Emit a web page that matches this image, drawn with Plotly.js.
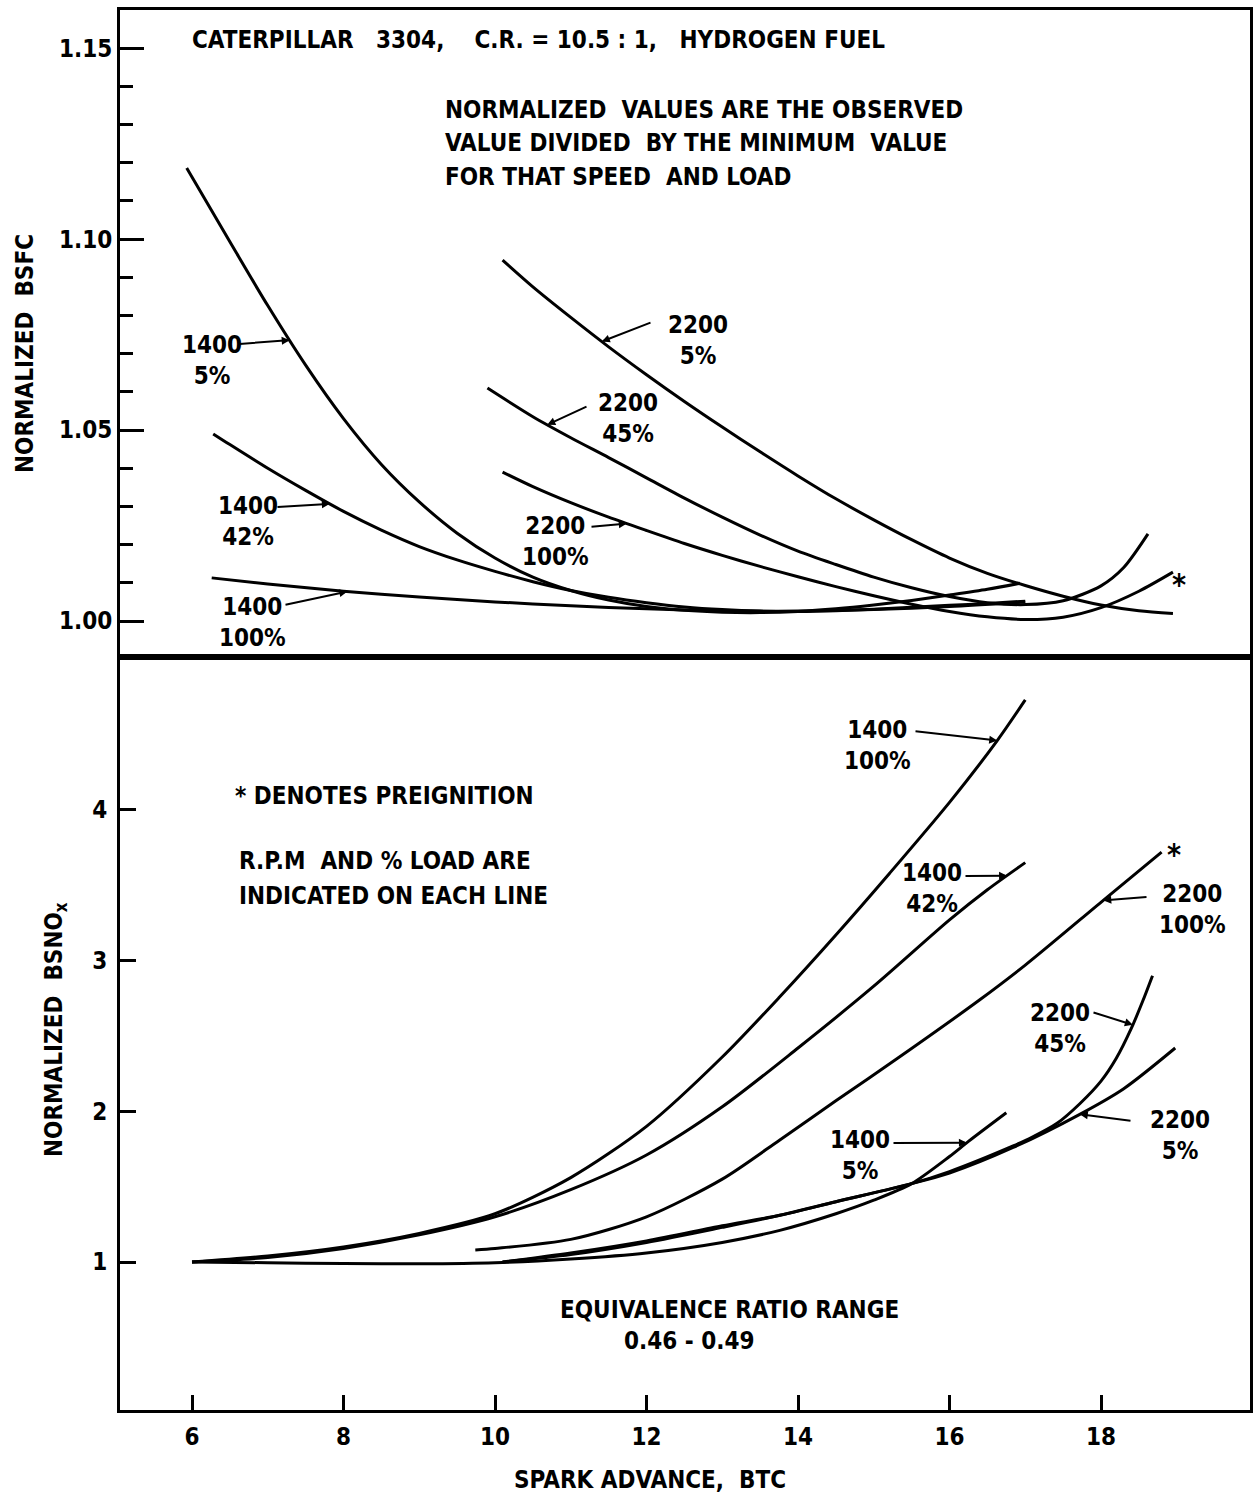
<!DOCTYPE html>
<html>
<head>
<meta charset="utf-8">
<script src="https://cdn.plot.ly/plotly-3.0.1.min.js"></script>
<style>html,body{margin:0;padding:0;background:#fff;}</style>
</head>
<body>
<div id="chart" style="width:1254px;height:1499px;"></div>
<script>
// ---------- DATA ----------
// Top panel: normalized BSFC vs spark advance
const x_bsfc_1400_5   = [5.93, 6.5, 7, 7.5, 8, 8.5, 9, 9.5, 10, 10.5, 11, 11.5, 12, 12.5, 13, 13.5, 14, 14.5, 15, 15.5, 16, 16.5, 16.93];
const bsfc_1400_5     = [1.1186, 1.0993, 1.0826, 1.0670, 1.0530, 1.0410, 1.0312, 1.0230, 1.0165, 1.0115, 1.0080, 1.0055, 1.0038, 1.0028, 1.0023, 1.0022, 1.0025, 1.0032, 1.0042, 1.0054, 1.0068, 1.0083, 1.0099];
const x_bsfc_1400_42  = [6.28, 6.5, 7, 7.5, 8, 8.5, 9, 9.5, 10, 10.5, 11, 11.5, 12, 12.5, 13, 13.5, 14, 14.5, 15, 15.5, 16, 16.5, 17];
const bsfc_1400_42    = [1.0490, 1.0462, 1.0400, 1.0342, 1.0287, 1.0238, 1.0195, 1.0160, 1.0130, 1.0103, 1.0080, 1.0062, 1.0048, 1.0037, 1.0030, 1.0026, 1.0025, 1.0027, 1.0031, 1.0036, 1.0041, 1.0046, 1.0052];
const x_bsfc_1400_100 = [6.26, 7, 8, 9, 10, 11, 12, 13, 14, 15, 16, 17];
const bsfc_1400_100   = [1.0113, 1.0097, 1.0078, 1.0063, 1.0050, 1.0040, 1.0032, 1.0027, 1.0026, 1.0030, 1.0038, 1.0050];
const x_bsfc_2200_5   = [10.1, 10.5, 11, 11.5, 12, 12.5, 13, 13.5, 14, 14.5, 15, 15.5, 16, 16.5, 17, 17.5, 18, 18.5, 18.95];
const bsfc_2200_5     = [1.0945, 1.0875, 1.0795, 1.0718, 1.0645, 1.0575, 1.0508, 1.0443, 1.0380, 1.0320, 1.0265, 1.0213, 1.0165, 1.0125, 1.0093, 1.0065, 1.0042, 1.0027, 1.0020];
const x_bsfc_2200_45  = [9.9, 10.5, 11, 11.5, 12, 12.5, 13, 13.5, 14, 14.5, 15, 15.5, 16, 16.5, 17, 17.5, 18, 18.3, 18.62];
const bsfc_2200_45    = [1.0610, 1.0535, 1.0480, 1.0428, 1.0375, 1.0322, 1.0272, 1.0225, 1.0183, 1.0148, 1.0115, 1.0087, 1.0064, 1.0048, 1.0043, 1.0053, 1.0092, 1.0140, 1.0228];
const x_bsfc_2200_100 = [10.1, 10.5, 11, 11.5, 12, 12.5, 13, 13.5, 14, 14.5, 15, 15.5, 16, 16.5, 17, 17.5, 18, 18.5, 18.95];
const bsfc_2200_100   = [1.0390, 1.0352, 1.0310, 1.0272, 1.0237, 1.0203, 1.0172, 1.0143, 1.0116, 1.0090, 1.0066, 1.0044, 1.0025, 1.0011, 1.0004, 1.0010, 1.0035, 1.0078, 1.0128];

// Bottom panel: normalized BSNOx vs spark advance
const x_nox_1400_100 = [6, 7, 8, 9, 10, 11, 12, 13, 13.76, 14.5, 15.21, 16, 16.63, 17];
const nox_1400_100   = [1.00, 1.04, 1.10, 1.19, 1.32, 1.56, 1.90, 2.36, 2.76, 3.17, 3.58, 4.05, 4.46, 4.73];
const x_nox_1400_42  = [6, 7, 8, 9, 10, 11, 12, 13, 14, 15, 16, 16.5, 17];
const nox_1400_42    = [1.00, 1.03, 1.09, 1.18, 1.30, 1.48, 1.71, 2.03, 2.42, 2.83, 3.27, 3.47, 3.65];
const x_nox_1400_5   = [6, 7, 8, 9, 10, 11, 12, 13, 13.76, 14.5, 15, 15.5, 16, 16.25, 16.75];
const nox_1400_5     = [1.00, 0.995, 0.99, 0.988, 0.995, 1.02, 1.06, 1.13, 1.21, 1.32, 1.41, 1.52, 1.70, 1.80, 1.99];
const x_nox_2200_100 = [9.74, 10, 11, 12, 13, 13.76, 14.5, 15.31, 16.4, 17, 18.03, 18.8];
const nox_2200_100   = [1.08, 1.09, 1.15, 1.30, 1.55, 1.81, 2.07, 2.35, 2.74, 2.97, 3.40, 3.72];
const x_nox_2200_45  = [10.1, 11, 12, 13, 13.76, 14.5, 15.5, 16, 16.84, 17.1, 17.42, 17.72, 18.0, 18.2, 18.4, 18.55, 18.68];
const nox_2200_45    = [1.00, 1.05, 1.13, 1.23, 1.31, 1.40, 1.52, 1.60, 1.77, 1.83, 1.92, 2.05, 2.20, 2.35, 2.55, 2.73, 2.90];
const x_nox_2200_5   = [10.1, 11, 12, 13, 13.76, 14.5, 15.5, 16, 16.84, 17.72, 18.3, 18.98];
const nox_2200_5     = [1.00, 1.06, 1.14, 1.24, 1.31, 1.40, 1.52, 1.59, 1.76, 1.98, 2.15, 2.42];

// Tick values / labels
const xTicks = [6, 8, 10, 12, 14, 16, 18];
const bsfcTicks = [1.00, 1.05, 1.10, 1.15];
const bsfcTickText = ['1.00', '1.05', '1.10', '1.15'];
const noxTicks = [1, 2, 3, 4];

// Curve labels
const labels = ['1400<br>5%', '1400<br>42%', '1400<br>100%', '2200<br>5%', '2200<br>45%', '2200<br>100%'];

// ---------- FIGURE ----------
const FONT = 'DejaVu Sans Condensed, Liberation Sans Narrow, Arial Narrow, sans-serif';
const W = 1254, H = 1499, ML = 120, MR = 4, MT = 10, MB = 89;
const PW = W - ML - MR, PH = H - MT - MB;
const splitPx = 657;
const topDomain = [(H - MB - splitPx) / PH, 1];
const botDomain = [0, (H - MB - splitPx) / PH];
const xRange = [5.0495, 19.967];
const bsfcRange = [0.99058, 1.16];
const noxRange = [0.0179, 5.0146];

const lineStyle = {color: '#000', width: 3, shape: 'spline', smoothing: 0.8};
function tr(x, y, xa, ya, name) {
  return {x: x, y: y, xaxis: xa, yaxis: ya, type: 'scatter', mode: 'lines', line: lineStyle, name: name, hoverinfo: 'skip'};
}
const traces = [
  tr(x_bsfc_1400_5, bsfc_1400_5, 'x', 'y', '1400 5%'),
  tr(x_bsfc_1400_42, bsfc_1400_42, 'x', 'y', '1400 42%'),
  tr(x_bsfc_1400_100, bsfc_1400_100, 'x', 'y', '1400 100%'),
  tr(x_bsfc_2200_5, bsfc_2200_5, 'x', 'y', '2200 5%'),
  tr(x_bsfc_2200_45, bsfc_2200_45, 'x', 'y', '2200 45%'),
  tr(x_bsfc_2200_100, bsfc_2200_100, 'x', 'y', '2200 100%'),
  tr(x_nox_1400_5, nox_1400_5, 'x2', 'y2', '1400 5%'),
  tr(x_nox_1400_42, nox_1400_42, 'x2', 'y2', '1400 42%'),
  tr(x_nox_1400_100, nox_1400_100, 'x2', 'y2', '1400 100%'),
  tr(x_nox_2200_5, nox_2200_5, 'x2', 'y2', '2200 5%'),
  tr(x_nox_2200_45, nox_2200_45, 'x2', 'y2', '2200 45%'),
  tr(x_nox_2200_100, nox_2200_100, 'x2', 'y2', '2200 100%')
];

// helpers
function interp(xs, ys, x) {
  for (let i = 0; i < xs.length - 1; i++) {
    if (x >= xs[i] && x <= xs[i + 1]) {
      const t = (x - xs[i]) / (xs[i + 1] - xs[i]);
      return ys[i] + t * (ys[i + 1] - ys[i]);
    }
  }
  return ys[ys.length - 1];
}
function px2x(p) { return xRange[0] + (p - ML) / PW * (xRange[1] - xRange[0]); }
function px2yTop(p) { const top = MT, bot = splitPx; return bsfcRange[1] - (p - top) / (bot - top) * (bsfcRange[1] - bsfcRange[0]); }
function px2yBot(p) { const top = splitPx, bot = H - MB; return noxRange[1] - (p - top) / (bot - top) * (noxRange[1] - noxRange[0]); }
function paperX(p) { return (p - ML) / PW; }
function paperY(p) { return (H - MB - p) / PH; }

const ann = [];
const shapes = [];
function txt(t, xp, yp, size, anchor, extra) {
  ann.push(Object.assign({text: t, x: paperX(xp), y: paperY(yp), xref: 'paper', yref: 'paper',
    xanchor: anchor || 'center', yanchor: 'middle', showarrow: false,
    font: {family: FONT, size: size || 24, color: '#000', weight: 'bold'}, align: anchor === 'left' ? 'left' : 'center'}, extra || {}));
}
function leader(xs, ys, tipX, tailPx, tailPy, top) {
  const ya = top ? 'y' : 'y2', xa = top ? 'x' : 'x2';
  ann.push({x: tipX, y: interp(xs, ys, tipX), xref: xa, yref: ya,
    ax: px2x(tailPx), ay: top ? px2yTop(tailPy) : px2yBot(tailPy), axref: xa, ayref: ya,
    text: '', showarrow: true, arrowhead: 2, arrowsize: 0.8, arrowwidth: 2, arrowcolor: '#000'});
}

// top panel texts
const NB = '\u00a0';
txt('CATERPILLAR' + NB + NB + NB + '3304,' + NB + NB + NB + NB + 'C.R. = 10.5 : 1,' + NB + NB + NB + 'HYDROGEN' + NB + 'FUEL', 190, 40, 24, 'left');
txt('NORMALIZED' + NB + ' VALUES ARE THE OBSERVED', 443, 110, 24, 'left');
txt('VALUE DIVIDED' + NB + ' BY THE MINIMUM' + NB + ' VALUE', 443, 143, 24, 'left');
txt('FOR THAT SPEED' + NB + ' AND LOAD', 443, 177, 24, 'left');

// top curve labels + leaders
txt(labels[0], 212, 360); leader(x_bsfc_1400_5, bsfc_1400_5, 7.29, 238, 344, true);
txt(labels[1], 248, 521); leader(x_bsfc_1400_42, bsfc_1400_42, 7.82, 276, 507, true);
txt(labels[2], 252, 622); leader(x_bsfc_1400_100, bsfc_1400_100, 8.05, 284, 605, true);
txt(labels[3], 698, 340); leader(x_bsfc_2200_5, bsfc_2200_5, 11.41, 652, 322, true);
txt(labels[4], 628, 418); leader(x_bsfc_2200_45, bsfc_2200_45, 10.69, 588, 406, true);
txt(labels[5], 555, 541); leader(x_bsfc_2200_100, bsfc_2200_100, 11.74, 590, 527, true);

// preignition stars at the ends of the 2200 100% curves
ann.push({text: '*', x: x_bsfc_2200_100[x_bsfc_2200_100.length - 1], y: bsfc_2200_100[bsfc_2200_100.length - 1],
  xref: 'x', yref: 'y', showarrow: false, xshift: 6, yshift: -12, font: {family: FONT, size: 30, color: '#000', weight: 'bold'}});
ann.push({text: '*', x: x_nox_2200_100[x_nox_2200_100.length - 1], y: nox_2200_100[nox_2200_100.length - 1],
  xref: 'x2', yref: 'y2', showarrow: false, xshift: 12, yshift: -2, font: {family: FONT, size: 30, color: '#000', weight: 'bold'}});

// bottom panel texts
txt('* DENOTES PREIGNITION', 233, 796, 24, 'left');
txt('R.P.M' + NB + NB + 'AND % LOAD ARE', 237, 861, 24, 'left');
txt('INDICATED ON EACH LINE', 237, 896, 24, 'left');
txt('EQUIVALENCE RATIO RANGE', 729, 1310, 24);
txt('0.46 - 0.49', 689, 1341, 24);

// bottom curve labels + leaders
txt(labels[2], 877, 745); leader(x_nox_1400_100, nox_1400_100, 16.63, 914, 731, false);
txt(labels[1], 932, 888); leader(x_nox_1400_42, nox_1400_42, 16.76, 964, 876, false);
txt(labels[5], 1192, 910); leader(x_nox_2200_100, nox_2200_100, 18.03, 1148, 897, false);
txt(labels[4], 1060, 1028); leader(x_nox_2200_45, nox_2200_45, 18.42, 1092, 1012, false);
txt(labels[0], 860, 1155); leader(x_nox_1400_5, nox_1400_5, 16.23, 892, 1143, false);
txt(labels[3], 1180, 1135); leader(x_nox_2200_5, nox_2200_5, 17.72, 1132, 1121, false);

// axis titles
txt('NORMALIZED' + NB + NB + 'BSFC', 25, 354, 24, 'center', {textangle: -90});
txt('NORMALIZED' + NB + NB + 'BSNO<sub>x</sub>', 55, 1030, 24, 'center', {textangle: -90});
txt('SPARK ADVANCE,' + NB + NB + 'BTC', 650, 1480, 24);

const axBase = {showgrid: false, zeroline: false, showline: true, mirror: true, linewidth: 3, linecolor: '#000',
  tickcolor: '#000', tickfont: {family: FONT, size: 24, color: '#000', weight: 'bold'}, fixedrange: true};

const layout = {
  width: W, height: H,
  margin: {l: ML, r: MR, t: MT, b: MB, pad: 0},
  paper_bgcolor: '#fff', plot_bgcolor: '#fff',
  showlegend: false,
  font: {family: FONT, size: 24, color: '#000'},
  xaxis: Object.assign({}, axBase, {domain: [0, 1], anchor: 'y', range: xRange, showticklabels: false, ticks: ''}),
  yaxis: Object.assign({}, axBase, {domain: topDomain, anchor: 'x', range: bsfcRange,
    tickmode: 'array', tickvals: bsfcTicks, ticktext: bsfcTickText,
    ticks: 'inside', ticklen: 24, tickwidth: 3, ticklabelstandoff: 0,
    minor: {tickmode: 'linear', tick0: 1.0, dtick: 0.01, ticks: 'inside', ticklen: 13, tickwidth: 3, tickcolor: '#000', showgrid: false}}),
  xaxis2: Object.assign({}, axBase, {domain: [0, 1], anchor: 'y2', range: xRange,
    tickmode: 'array', tickvals: xTicks, ticks: 'inside', ticklen: 15, tickwidth: 3, ticklabelstandoff: 3}),
  yaxis2: Object.assign({}, axBase, {domain: botDomain, anchor: 'x2', range: noxRange,
    tickmode: 'array', tickvals: noxTicks, ticks: 'inside', ticklen: 16, tickwidth: 3, ticklabelstandoff: 5}),
  annotations: ann,
  shapes: shapes
};

Plotly.newPlot('chart', traces, layout, {staticPlot: true, displayModeBar: false});
</script>
</body>
</html>
